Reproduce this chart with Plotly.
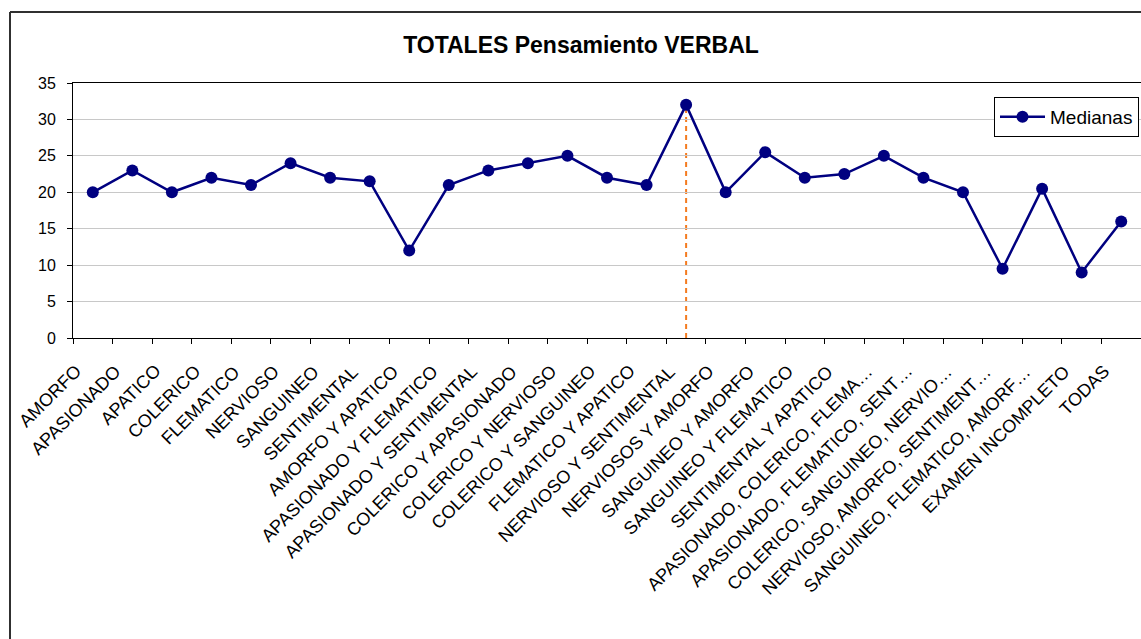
import plotly.graph_objects as go

# Perfiles caracterológicos y mediana de la puntuación de pensamiento verbal
categorias = [
    "AMORFO", "APASIONADO", "APATICO", "COLERICO", "FLEMATICO", "NERVIOSO",
    "SANGUINEO", "SENTIMENTAL", "AMORFO Y APATICO", "APASIONADO Y FLEMATICO",
    "APASIONADO Y SENTIMENTAL", "COLERICO Y APASIONADO", "COLERICO Y NERVIOSO",
    "COLERICO Y SANGUINEO", "FLEMATICO Y APATICO", "NERVIOSO Y SENTIMENTAL",
    "NERVIOSOS Y AMORFO", "SANGUINEO Y AMORFO", "SANGUINEO Y FLEMATICO",
    "SENTIMENTAL Y APATICO", "APASIONADO, COLERICO, FLEMA…",
    "APASIONADO, FLEMATICO, SENT…", "COLERICO, SANGUINEO, NERVIO…",
    "NERVIOSO, AMORFO, SENTIMENT…", "SANGUINEO, FLEMATICO, AMORF…",
    "EXAMEN INCOMPLETO", "TODAS",
]
medianas = [
    20, 23, 20, 22, 21, 24, 22, 21.5, 12, 21, 23, 24, 25, 22, 21, 32,
    20, 25.5, 22, 22.5, 25, 22, 20, 9.5, 20.5, 9, 16,
]
y_ticks = [0, 5, 10, 15, 20, 25, 30, 35]

W, H = 1141, 639
ML, MR, MT, MB = 73, 0, 83, 301
PW, PH = W - ML - MR, H - MT - MB


def px_x(p):
    return (p - ML) / PW


def px_y(p):
    return (H - MB - p) / PH


FONT = "Arial, 'Liberation Sans', sans-serif"
NAVY = "#000080"

fig = go.Figure()
fig.add_trace(go.Scatter(
    x=categorias, y=medianas, mode="lines+markers", name="Medianas",
    line=dict(color=NAVY, width=2.5),
    marker=dict(color=NAVY, size=12, symbol="circle"),
))

# línea de caída desde el máximo hasta el eje
i_max = medianas.index(max(medianas))
fig.add_shape(type="line", xref="x", yref="y",
              x0=categorias[i_max], x1=categorias[i_max],
              y0=0, y1=medianas[i_max],
              line=dict(color="#F47B20", width=2, dash="5px,4px"),
              layer="below")

# marco exterior del gráfico (borde izquierdo y superior)
fig.add_shape(type="line", xref="paper", yref="paper",
              x0=px_x(10), x1=px_x(10), y0=px_y(12), y1=px_y(H + 5),
              line=dict(color="#303030", width=2))
fig.add_shape(type="line", xref="paper", yref="paper",
              x0=px_x(10), x1=px_x(W + 5), y0=px_y(12), y1=px_y(12),
              line=dict(color="#303030", width=2))

# etiquetas de categoría giradas 45°, con la esquina superior derecha
# alineada bajo cada categoría
for cat in categorias:
    fig.add_annotation(
        x=cat, xref="x", y=0, yref="paper",
        text=cat, showarrow=False, textangle=-45,
        xanchor="right", yanchor="top", xshift=-6, yshift=-22,
        borderpad=0, font=dict(family=FONT, size=18, color="black"),
    )

fig.update_layout(
    width=W, height=H,
    margin=dict(l=ML, r=MR, t=MT, b=MB, autoexpand=False),
    paper_bgcolor="white", plot_bgcolor="white",
    font=dict(family=FONT, color="black", size=16),
    title=dict(text="<b>TOTALES Pensamiento VERBAL</b>",
               font=dict(family=FONT, size=23, color="black"),
               xref="container", x=581 / W, xanchor="center",
               yref="container", y=1 - 45 / H, yanchor="middle"),
    showlegend=True,
    legend=dict(x=px_x(1139), xanchor="right", y=px_y(97), yanchor="top",
                bgcolor="white", bordercolor="black", borderwidth=1,
                font=dict(family=FONT, size=19, color="black"),
                itemwidth=45, tracegroupgap=0),
    xaxis=dict(
        type="category", range=[-0.5, len(categorias) - 0.5],
        tickson="boundaries", ticks="outside", ticklen=5, tickcolor="black",
        showline=True, linecolor="black", linewidth=1, mirror=True,
        showgrid=False, showticklabels=False, automargin=False,
    ),
    yaxis=dict(
        range=[0, 35], tickvals=y_ticks, ticks="outside", ticklen=5,
        tickcolor="black", showline=True, linecolor="black", linewidth=1,
        showgrid=True, gridcolor="#C8C8C8", gridwidth=1, zeroline=False,
        automargin=False, ticklabelstandoff=8,
        tickfont=dict(family=FONT, size=16, color="black"),
    ),
)

fig.write_html("out.html")
